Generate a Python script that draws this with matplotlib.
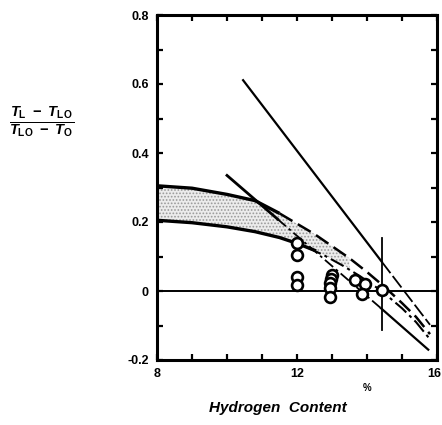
import numpy as np
import matplotlib
matplotlib.use("Agg")
import matplotlib.pyplot as plt
import matplotlib.transforms as mtransforms

plt.rcParams['font.family'] = ['Liberation Sans', 'DejaVu Sans']
plt.rcParams['mathtext.fontset'] = 'custom'
plt.rcParams['mathtext.it'] = 'Liberation Sans:bold:italic'
plt.rcParams['mathtext.rm'] = 'Liberation Sans:bold'
plt.rcParams['mathtext.bf'] = 'Liberation Sans:bold'
plt.rcParams['hatch.color'] = '#9a9a9a'
plt.rcParams['hatch.linewidth'] = 0.8

# ---- data ----
band_x = [8, 9, 10, 10.8, 11.5, 12, 12.5, 13, 13.5]
band_upper = [0.305, 0.298, 0.280, 0.262, 0.225, 0.195, 0.165, 0.130, 0.095]
band_lower = [0.205, 0.198, 0.186, 0.172, 0.155, 0.138, 0.118, 0.093, 0.065]

upper_ext_x = [11.5, 12, 12.5, 13, 13.5, 14, 14.5, 15, 15.4, 15.8]
upper_ext_y = [0.225, 0.195, 0.165, 0.130, 0.095, 0.055, 0.012, -0.035, -0.075, -0.125]

lower_ext_x = [12.3, 12.8, 13.3, 13.8, 14.42, 15, 15.4, 15.8]
lower_ext_y = [0.126, 0.102, 0.074, 0.043, 0.000, -0.050, -0.090, -0.140]

steep_x = [10.46, 14.42]
steep_y = [0.611, 0.085]
steep_ext_x = [14.42, 15.8]
steep_ext_y = [0.085, -0.098]

straight_x = [10.0, 11.45]
straight_y = [0.335, 0.208]
straight_mid_x = [11.45, 14.4]
straight_mid_y = [0.208, -0.050]
straight_end_x = [14.4, 15.75]
straight_end_y = [-0.050, -0.170]

zero_x = [8, 16]
zero_y = [0, 0]

vbar_x = [14.42, 14.42]
vbar_y = [0.153, -0.112]

pts_x = [12.0, 12.0, 12.0, 12.0,
         13.0, 12.97, 12.95, 12.93, 12.93,
         13.67, 13.93, 13.86, 14.42]
pts_y = [0.138, 0.103, 0.042, 0.016,
         0.045, 0.035, 0.022, 0.008, -0.018,
         0.031, 0.019, -0.010, 0.002]

x_major = [8, 12, 16]
x_major_labels = ['8', '12', '16']
y_major = [-0.2, 0, 0.2, 0.4, 0.6, 0.8]
y_major_labels = ['-0.2', '0', '0.2', '0.4', '0.6', '0.8']

# ---- figure ----
fig = plt.figure(figsize=(4.42, 4.25), dpi=100)
ax = fig.add_axes([157/442, 1-360/425, 280/442, 345/425])

ax.fill_between(band_x, band_lower, band_upper, facecolor='#ececec',
                edgecolor='#9a9a9a', hatch='.....', linewidth=0)

ax.plot(band_x[:5], band_upper[:5], color='black', lw=2.4, solid_capstyle='butt')
ax.plot(upper_ext_x, upper_ext_y, color='black', lw=1.8, dashes=(6, 2.5))
ax.plot(band_x[:7], band_lower[:7], color='black', lw=2.4)
ax.plot(lower_ext_x, lower_ext_y, color='black', lw=1.5, dashes=(7, 2, 1.5, 2))

ax.plot(steep_x, steep_y, color='black', lw=1.6)
ax.plot(steep_ext_x, steep_ext_y, color='black', lw=1.3, dashes=(8, 2))

ax.plot(straight_x, straight_y, color='black', lw=2.0)
ax.plot(straight_mid_x, straight_mid_y, color='black', lw=1.3, dashes=(6, 2, 1.5, 2))
ax.plot(straight_end_x, straight_end_y, color='black', lw=1.6)

ax.plot(zero_x, zero_y, color='black', lw=1.4)
ax.plot(vbar_x, vbar_y, color='black', lw=1.3)

ax.plot(pts_x, pts_y, linestyle='none', marker='o', markersize=7.8,
        markerfacecolor='white', markeredgecolor='black', markeredgewidth=1.9)

ax.set_xlim(8, 16)
ax.set_ylim(-0.2, 0.8)
ax.set_xticks(x_major)
ax.set_xticklabels(x_major_labels, fontweight='bold', fontsize=9)
ax.set_xticks(np.arange(8, 17, 1), minor=True)
ax.set_yticks(y_major)
ax.set_yticklabels(y_major_labels, fontweight='bold', fontsize=9)
ax.set_yticks(np.arange(-0.2, 0.81, 0.1), minor=True)
for which in ('major', 'minor'):
    ax.tick_params(axis='both', which=which, direction='in', length=4, width=1.6,
                   top=True, right=True, pad=6)
for s in ax.spines.values():
    s.set_linewidth(2.2)

# keep the "16" label inside the figure edge
last = ax.get_xticklabels()[-1]
last.set_horizontalalignment('right')
last.set_transform(last.get_transform() +
                   mtransforms.ScaledTranslation(4/100, 0, fig.dpi_scale_trans))

ax.text(14.0, -0.28, '%', fontsize=7, fontweight='bold', ha='center', va='center',
        clip_on=False)

fig.text(278/442, 1-408/425, 'Hydrogen  Content', fontsize=11, fontweight='bold',
         fontstyle='italic', ha='center', va='center')
fig.text(42/442, 1-122/425,
         r'$\frac{T_{\mathrm{L}}\ -\ T_{\mathrm{LO}}}{T_{\mathrm{LO}}\ -\ T_{\mathrm{O}}}$',
         fontsize=15, ha='center', va='center')

fig.savefig('out.png', dpi=100)
